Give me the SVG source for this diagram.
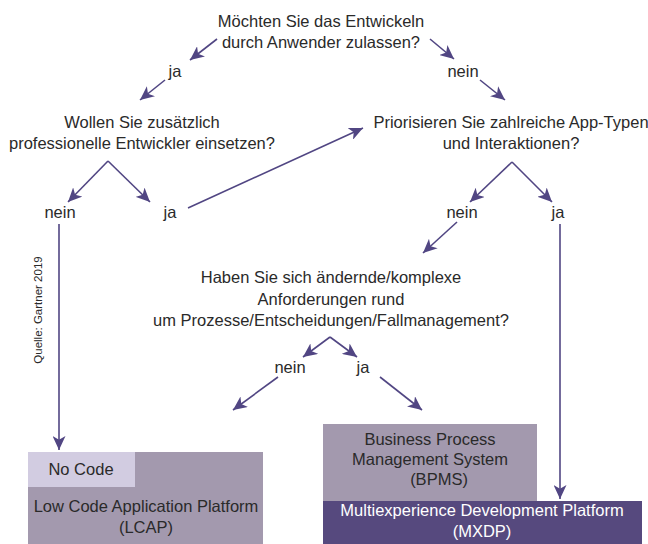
<svg xmlns="http://www.w3.org/2000/svg" width="648" height="544" viewBox="0 0 648 544">
<style>
.t{font-family:"Liberation Sans",Arial,sans-serif;font-size:16.5px;fill:#2a2a2a;text-anchor:middle}
.w{fill:#ffffff}
.s{font-size:11.5px}
.c{stroke:#514683;stroke-width:1.6;fill:none;marker-end:url(#ah)}
</style>
<defs>
<marker id="ah" markerUnits="userSpaceOnUse" markerWidth="15" markerHeight="13" refX="14" refY="6.5" orient="auto">
<path d="M0,0 L14,6.5 L0,13 L3.8,6.5 z" fill="#514683"/>
</marker>
</defs>
<rect width="648" height="544" fill="#ffffff"/>
<g id="connectors">
<line class="c" x1="217" y1="39" x2="190" y2="60"/>
<line class="c" x1="430" y1="39" x2="454" y2="59"/>
<line class="c" x1="165" y1="80" x2="140" y2="100"/>
<line class="c" x1="480" y1="80" x2="505" y2="100"/>
<line class="c" x1="108" y1="161" x2="68" y2="202"/>
<line class="c" x1="108" y1="161" x2="150" y2="202"/>
<line class="c" x1="188" y1="208" x2="363" y2="128"/>
<line class="c" x1="512" y1="162" x2="470" y2="202"/>
<line class="c" x1="512" y1="162" x2="552" y2="202"/>
<line class="c" x1="59" y1="224" x2="59" y2="450"/>
<line class="c" x1="457" y1="222" x2="423" y2="253"/>
<line class="c" x1="560" y1="224" x2="560" y2="499"/>
<line class="c" x1="330" y1="337" x2="303" y2="357"/>
<line class="c" x1="330" y1="337" x2="357" y2="357"/>
<line class="c" x1="278" y1="377" x2="233" y2="410"/>
<line class="c" x1="380" y1="377" x2="422" y2="410"/>
</g>
<g id="q1">
<text class="t" x="321" y="27">Möchten Sie das Entwickeln</text>
<text class="t" x="321" y="48">durch Anwender zulassen?</text>
</g>
<g id="q1-ja"><text class="t" x="175" y="77">ja</text></g>
<g id="q1-nein"><text class="t" x="463" y="77">nein</text></g>
<g id="q2">
<text class="t" x="142" y="128">Wollen Sie zusätzlich</text>
<text class="t" x="142" y="149">professionelle Entwickler einsetzen?</text>
</g>
<g id="q3">
<text class="t" x="511" y="128">Priorisieren Sie zahlreiche App-Typen</text>
<text class="t" x="511" y="149">und Interaktionen?</text>
</g>
<g id="q2-nein"><text class="t" x="60" y="218">nein</text></g>
<g id="q2-ja"><text class="t" x="170" y="218">ja</text></g>
<g id="q3-nein"><text class="t" x="462" y="218">nein</text></g>
<g id="q3-ja"><text class="t" x="558" y="218">ja</text></g>
<g id="q4">
<text class="t" x="331" y="283">Haben Sie sich ändernde/komplexe</text>
<text class="t" x="331" y="305">Anforderungen rund</text>
<text class="t" x="331" y="326">um Prozesse/Entscheidungen/Fallmanagement?</text>
</g>
<g id="q4-nein"><text class="t" x="290" y="373">nein</text></g>
<g id="q4-ja"><text class="t" x="363" y="373">ja</text></g>
<g id="source"><text class="t s" transform="translate(42,310) rotate(-90)">Quelle: Gartner 2019</text></g>
<g id="lcap">
<rect x="28" y="452" width="235" height="92" fill="#a399ae"/>
<text class="t" x="146" y="512">Low Code Application Platform</text>
<text class="t" x="146" y="533">(LCAP)</text>
</g>
<g id="nocode">
<rect x="28" y="452" width="107" height="35" fill="#d2cce1"/>
<text class="t" x="81" y="475">No Code</text>
</g>
<g id="bpms">
<rect x="323" y="424" width="214" height="77" fill="#a399ae"/>
<text class="t" x="430" y="445">Business Process</text>
<text class="t" x="430" y="465">Management System</text>
<text class="t" x="439" y="485">(BPMS)</text>
</g>
<g id="mxdp">
<rect x="323" y="501" width="319" height="43" fill="#56497e"/>
<text class="t w" x="482" y="516">Multiexperience Development Platform</text>
<text class="t w" x="482" y="537">(MXDP)</text>
</g>
</svg>
